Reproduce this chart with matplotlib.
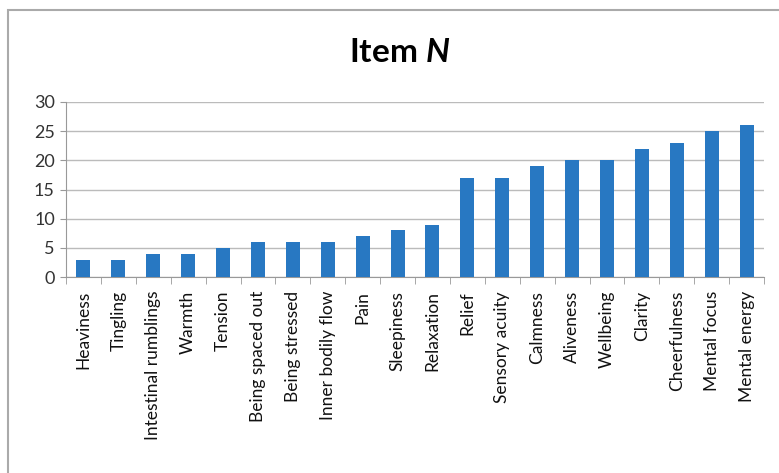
"""Item N bar chart."""

import matplotlib

matplotlib.use("Agg")
import matplotlib.pyplot as plt
from matplotlib.patches import Rectangle
import numpy as np

items = [
    "Heaviness", "Tingling", "Intestinal rumblings", "Warmth", "Tension",
    "Being spaced out", "Being stressed", "Inner bodily flow", "Pain",
    "Sleepiness", "Relaxation", "Relief", "Sensory acuity", "Calmness",
    "Aliveness", "Wellbeing", "Clarity", "Cheerfulness", "Mental focus",
    "Mental energy",
]
counts = [3, 3, 4, 4, 5, 6, 6, 6, 7, 8, 9, 17, 17, 19, 20, 20, 22, 23, 25, 26]
y_ticks = [0, 5, 10, 15, 20, 25, 30]

plt.rcParams["font.family"] = ["Lato", "DejaVu Sans"]
plt.rcParams["mathtext.fontset"] = "custom"
plt.rcParams["mathtext.it"] = "Lato:italic:bold"

W, H = 779, 473
fig = plt.figure(figsize=(W / 100, H / 100), dpi=100)
ax = fig.add_axes([66 / W, 1 - 277 / H, 698 / W, 175 / H])

x = np.arange(len(items))
ax.bar(x, counts, width=0.4, color="#2878C2", zorder=3)

ax.set_xlim(-0.5, len(items) - 0.5)
ax.set_ylim(0, 30)
ax.set_yticks(y_ticks)
ax.tick_params(axis="y", labelsize=13, colors="#333333", length=4, color="#999999", pad=4)
ax.set_xticks(x)
ax.set_xticklabels(items, rotation=90, fontsize=12.5, color="#111111")
ax.set_xticks(np.arange(-0.5, len(items), 1), minor=True)
ax.tick_params(axis="x", which="major", length=0, pad=10)
ax.tick_params(axis="x", which="minor", length=5, color="#999999")
ax.grid(True, axis="y", color="#BBBBBB", linewidth=1.0, zorder=0)
for side in ("top", "right"):
    ax.spines[side].set_visible(False)
for side in ("left", "bottom"):
    ax.spines[side].set_color("#999999")

fig.text(400 / W, 1 - 52 / H, r"Item $\mathit{N}$", ha="center", va="center",
         fontsize=24, fontweight="bold")

frame = Rectangle((8 / W, -0.1), 1.2, 1 - 10 / H + 0.1, transform=fig.transFigure,
                  fill=False, edgecolor="#AAAAAA", linewidth=1.5, clip_on=False)
fig.patches.append(frame)

fig.savefig("out.png", dpi=100)
plt.close(fig)
